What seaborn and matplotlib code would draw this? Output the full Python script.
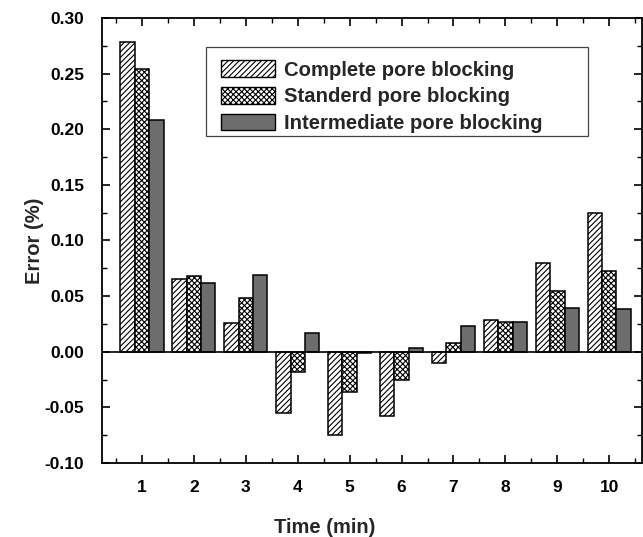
import matplotlib
matplotlib.use("Agg")
import matplotlib.pyplot as plt
import matplotlib.ticker as mticker
from matplotlib.patches import Patch, Rectangle
import seaborn as sns
import pandas as pd

times = ["1", "2", "3", "4", "5", "6", "7", "8", "9", "10"]
complete = [0.278, 0.065, 0.026, -0.055, -0.075, -0.058, -0.010, 0.0285, 0.080, 0.125]
standard = [0.254, 0.068, 0.048, -0.018, -0.036, -0.025, 0.008, 0.027, 0.055, 0.073]
intermediate = [0.208, 0.062, 0.069, 0.017, -0.001, 0.003, 0.023, 0.027, 0.039, 0.038]
series_names = ["Complete pore blocking", "Standerd pore blocking", "Intermediate pore blocking"]

df = pd.DataFrame({
    "Time": times * 3,
    "Error": complete + standard + intermediate,
    "Model": [series_names[0]] * 10 + [series_names[1]] * 10 + [series_names[2]] * 10,
})

sns.set_style("ticks")
plt.rcParams["font.family"] = ["Liberation Sans", "DejaVu Sans"]
plt.rcParams["font.weight"] = "bold"
plt.rcParams["hatch.color"] = "black"
plt.rcParams["hatch.linewidth"] = 0.8

fig = plt.figure(figsize=(6.43, 5.37), dpi=100)
ax = fig.add_axes([0.1586, 0.1378, 0.8398, 0.8287])

fills = ["white", "white", "#6d6d6d"]
hatches = ["//////", "xxxxxx", ""]

sns.barplot(data=df, x="Time", y="Error", hue="Model", order=times,
            hue_order=series_names, palette=fills, width=0.83,
            edgecolor="black", linewidth=1.1, saturation=1, legend=False, ax=ax)

for cont, h in zip(ax.containers, hatches):
    for bar in cont:
        bar.set_hatch(h)

ax.axhline(0, color="black", lw=1.2, zorder=5)

ax.set_xlim(-0.77, 9.63)
ax.set_ylim(-0.10, 0.30)
ax.yaxis.set_major_locator(mticker.MultipleLocator(0.05))
ax.yaxis.set_minor_locator(mticker.MultipleLocator(0.025))
ax.yaxis.set_major_formatter(mticker.FormatStrFormatter("%.2f"))
ax.xaxis.set_minor_locator(mticker.MultipleLocator(1, offset=0.5))

for s in ax.spines.values():
    s.set_linewidth(1.3)
    s.set_color("black")
    s.set_visible(True)

ax.tick_params(which="both", direction="in", top=True, right=True,
               colors="black", labelsize=12.5)
ax.tick_params(which="major", length=6, width=1.2)
ax.tick_params(which="minor", length=3.5, width=1.0)
ax.tick_params(axis="x", which="major", pad=12)
ax.tick_params(axis="y", which="major", pad=13)
for lab in ax.get_xticklabels() + ax.get_yticklabels():
    lab.set_fontweight("bold")

ax.set_xlabel("Time (min)", fontsize=14.5, fontweight="bold")
ax.xaxis.set_label_coords(0.413, -0.123)
ax.set_ylabel("Error (%)", fontsize=14.5, fontweight="bold", labelpad=0.5)

# legend entries without a frame; the box is drawn separately
handles = [Patch(facecolor=f, edgecolor="black", hatch=h, linewidth=1.0)
           for f, h in zip(fills, hatches)]
leg = ax.legend(handles, series_names, loc="upper left",
                bbox_to_anchor=(0.1926, 0.938), frameon=False,
                handlelength=2.7, handleheight=0.9,
                handletextpad=0.45, labelspacing=0.36, borderpad=0.72,
                borderaxespad=0,
                prop={"size": 14.6, "weight": "bold"})
ax.add_patch(Rectangle((0.1926, 0.7348), 0.7074, 0.2, transform=ax.transAxes,
                       facecolor="white", edgecolor="#444444", linewidth=0.9,
                       zorder=4))
leg.set_zorder(6)

fig.savefig("out.png", dpi=100)
